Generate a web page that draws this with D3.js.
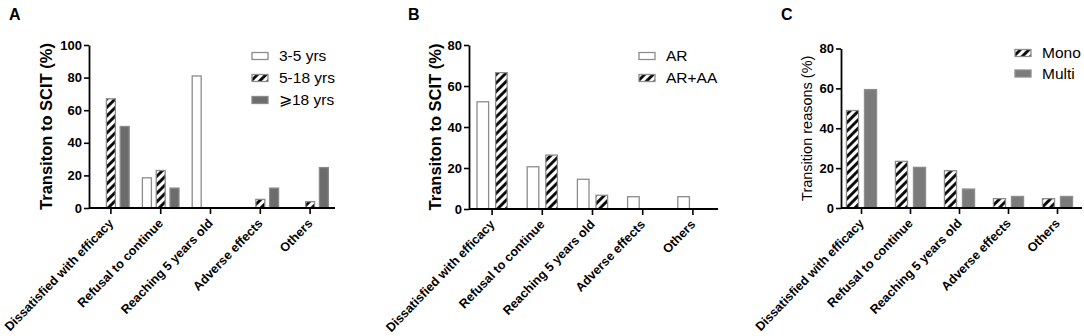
<!DOCTYPE html>
<html>
<head>
<meta charset="utf-8">
<script src="https://cdn.jsdelivr.net/npm/d3@7"></script>
<style>
body { margin: 0; background: #fff; }
svg { font-family: "Liberation Sans", Arial, sans-serif; }
</style>
</head>
<body>
<svg width="1084" height="336"></svg>
<script>
var categories = ['Dissatisfied with efficacy', 'Refusal to continue', 'Reaching 5 years old', 'Adverse effects', 'Others'];

// panel A
var seriesA = ['3-5 yrs', '5-18 yrs', '\u2A7E18 yrs'];
var age3to5 = [0, 18.5, 81, 0, 0];
var age5to18 = [67, 23, 0, 5.3, 3.9];
var age18plus = [50, 12.2, 0, 12.2, 24.8];
var ticksA = [0, 20, 40, 60, 80, 100];

// panel B
var seriesB = ['AR', 'AR+AA'];
var arOnly = [52.3, 20.6, 14.5, 6, 6];
var arAA = [66.5, 26.3, 6.7, 0, 0];
var ticksB = [0, 20, 40, 60, 80];

// panel C
var seriesC = ['Mono', 'Multi'];
var mono = [48.9, 23.4, 18.7, 4.7, 4.7];
var multi = [59.4, 20.4, 9.5, 5.8, 5.8];
var ticksC = [0, 20, 40, 60, 80];

var svg = d3.select('svg');

var defs = svg.append('defs');
var pat = defs.append('pattern')
    .attr('id', 'hatch')
    .attr('patternUnits', 'userSpaceOnUse')
    .attr('width', 6).attr('height', 6)
    .attr('patternTransform', 'rotate(45)');
pat.append('rect').attr('width', 6).attr('height', 6).attr('fill', '#fff');
pat.append('line')
    .attr('x1', 1.5).attr('y1', 0).attr('x2', 1.5).attr('y2', 6)
    .attr('stroke', '#000').attr('stroke-width', 2.8);

var styles = {
    white: { fill: '#fff', stroke: '#8c8c8c' },
    hatch: { fill: 'url(#hatch)', stroke: '#8c8c8c' },
    darkgrey: { fill: '#6c6c6c', stroke: '#8a8a8a' },
    grey: { fill: '#7b7b7b', stroke: '#8e8e8e' }
};

function panel(opt) {
    var g = svg.append('g');
    var x = d3.scaleBand().domain(categories).range(opt.xRange);
    var y = d3.scaleLinear().domain([0, opt.max]).range(opt.yRange);
    var sub = d3.scaleBand().domain(opt.series)
        .range([-opt.groupW / 2, opt.groupW / 2])
        .paddingInner(opt.innerPad);

    var rows = [];
    opt.values.forEach(function(vals, si) {
        vals.forEach(function(v, ci) {
            rows.push({ cat: categories[ci], s: opt.series[si], v: v, style: opt.styles[si] });
        });
    });

    g.selectAll('rect.bar')
        .data(rows.filter(function(d) { return d.v > 0; }))
        .enter().append('rect')
        .attr('class', 'bar')
        .attr('x', function(d) { return x(d.cat) + x.bandwidth() / 2 + sub(d.s); })
        .attr('y', function(d) { return y(d.v); })
        .attr('width', sub.bandwidth())
        .attr('height', function(d) { return y(0) - y(d.v); })
        .attr('fill', function(d) { return styles[d.style].fill; })
        .attr('stroke', function(d) { return styles[d.style].stroke; })
        .attr('stroke-width', 1.3);

    // y axis
    var ya = g.append('g')
        .attr('transform', 'translate(' + opt.axisX + ',0)')
        .call(d3.axisLeft(y).tickValues(opt.ticks).tickSize(5).tickSizeOuter(0));
    ya.select('.domain').attr('stroke-width', 1.8);
    ya.selectAll('.tick line').attr('stroke-width', 1.6);
    ya.selectAll('.tick text')
        .attr('font-size', 13).attr('font-weight', 'bold').attr('fill', '#000')
        .attr('x', -7);

    // x axis
    var xa = g.append('g')
        .attr('transform', 'translate(0,' + opt.yRange[0] + ')')
        .call(d3.axisBottom(x).tickSize(6).tickSizeOuter(0));
    xa.select('.domain')
        .attr('d', 'M' + opt.axisX + ',0H' + opt.xRange[1])
        .attr('stroke-width', 1.8);
    xa.selectAll('.tick line').attr('stroke-width', 1.6);
    xa.selectAll('.tick text')
        .attr('font-size', 12.6).attr('font-weight', 'bold').attr('fill', '#000')
        .attr('text-anchor', 'end')
        .attr('dy', '0.35em')
        .attr('transform', 'translate(0,13) rotate(-46)')
        .attr('y', 0);

    // y label
    g.append('text')
        .attr('transform', 'translate(' + opt.labelX + ',' + ((opt.yRange[0] + opt.yRange[1]) / 2) + ') rotate(-90)')
        .attr('text-anchor', 'middle')
        .attr('font-size', opt.labelSize)
        .attr('font-weight', opt.labelWeight)
        .text(opt.label);

    // panel letter
    g.append('text')
        .attr('x', opt.letterX).attr('y', 20)
        .attr('font-size', 16).attr('font-weight', 'bold')
        .text(opt.letter);

    // legend
    var lg = g.append('g').attr('transform', 'translate(' + opt.legend[0] + ',' + opt.legend[1] + ')');
    opt.series.forEach(function(s, i) {
        var row = lg.append('g').attr('transform', 'translate(0,' + (i * opt.legendGap) + ')');
        row.append('rect')
            .attr('x', 0).attr('y', -3.5).attr('width', 16).attr('height', 7)
            .attr('fill', styles[opt.styles[i]].fill)
            .attr('stroke', styles[opt.styles[i]].stroke)
            .attr('stroke-width', 1.3);
        row.append('text')
            .attr('x', 27).attr('y', 0).attr('dy', '0.35em')
            .attr('font-size', 15.5)
            .text(s);
    });
}

panel({
    letter: 'A', letterX: 9,
    series: seriesA, values: [age3to5, age5to18, age18plus],
    styles: ['white', 'hatch', 'darkgrey'],
    max: 100, ticks: ticksA,
    xRange: [86, 335], yRange: [208, 45], axisX: 89,
    groupW: 36.6, innerPad: 0.35,
    label: 'Transiton to SCIT (%)', labelX: 52, labelSize: 16.5, labelWeight: 'bold',
    legend: [252, 56], legendGap: 22
});

panel({
    letter: 'B', letterX: 408,
    series: seriesB, values: [arOnly, arAA],
    styles: ['white', 'hatch'],
    max: 80, ticks: ticksB,
    xRange: [467, 718], yRange: [209, 45], axisX: 469,
    groupW: 30.2, innerPad: 0.376,
    label: 'Transiton to SCIT (%)', labelX: 441, labelSize: 16.5, labelWeight: 'bold',
    legend: [639, 56], legendGap: 22
});

panel({
    letter: 'C', letterX: 781,
    series: seriesC, values: [mono, multi],
    styles: ['hatch', 'grey'],
    max: 80, ticks: ticksC,
    xRange: [837, 1082], yRange: [208, 48.5], axisX: 841,
    groupW: 30.1, innerPad: 0.33,
    label: 'Transition reasons (%)', labelX: 812, labelSize: 14.5, labelWeight: 'normal',
    legend: [1015, 53], legendGap: 20.5
});
</script>
</body>
</html>
